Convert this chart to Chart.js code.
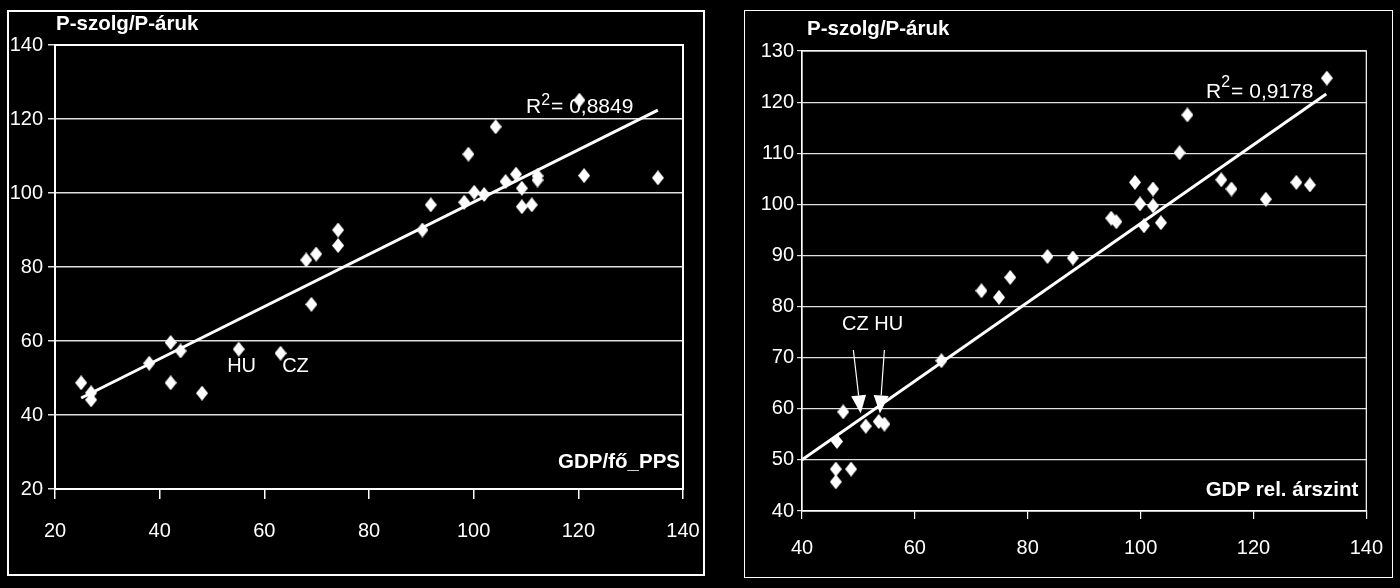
<!DOCTYPE html>
<html><head><meta charset="utf-8">
<script src="https://cdn.jsdelivr.net/npm/chart.js@4"></script>
<style>
html,body{margin:0;padding:0;background:#000;width:1400px;height:588px;overflow:hidden}
.box{position:absolute;border:2px solid #fff;box-sizing:border-box}
canvas{position:absolute}
</style></head><body>
<div class="box" style="left:7px;top:10px;width:698px;height:566px"></div>
<div class="box" style="left:744px;top:10px;width:649px;height:568px;border-width:1px"></div>
<canvas id="c1" width="720" height="588" style="left:0;top:0"></canvas>
<canvas id="c2" width="680" height="588" style="left:720px;top:0"></canvas>
<script>
// ---- data ----
const leftX = [25.0,26.9,26.9,38.0,42.1,44.0,42.1,48.1,55.1,63.1,68.0,69.9,69.0,74.1,74.1,90.2,91.8,98.2,99.0,100.1,102.0,104.2,106.1,108.1,109.2,109.2,111.1,112.2,112.2,120.2,121.1,135.2];
const leftY = [48.7,46.0,44.1,54.0,59.6,57.3,48.7,45.9,57.8,56.7,81.9,83.5,69.9,90.0,85.8,90.0,96.8,97.5,110.5,100.2,99.6,117.9,103.1,105.1,101.3,96.3,96.8,104.6,103.5,125.1,104.7,104.1];
const leftTrendX = [25, 135.2];
const leftTrendY = [44.6, 122.4];
const leftTicksX = [20,40,60,80,100,120,140];
const leftTicksY = [20,40,60,80,100,120,140];

const rightX = [46.0,46.0,46.2,47.3,48.7,51.3,53.6,54.6,64.7,71.8,74.9,76.9,83.5,88.0,94.8,95.7,99.0,99.9,100.6,102.2,102.2,103.6,106.9,108.3,114.3,116.1,122.2,127.6,130.0,133.0];
const rightY = [45.7,48.2,53.6,59.4,48.2,56.6,57.5,57.0,69.4,83.1,81.8,85.7,89.8,89.5,97.3,96.6,104.3,100.1,95.8,103.0,99.7,96.4,110.1,117.5,104.8,103.0,101.0,104.3,103.8,124.7];
const rightTrendX = [40, 132.9];
const rightTrendY = [50, 121.6];
const rightTicksX = [40,60,80,100,120,140];
const rightTicksY = [40,50,60,70,80,90,100,110,120,130];

const yTitle = 'P-szolg/P-áruk';
const leftXTitle = 'GDP/fő_PPS';
const rightXTitle = 'GDP rel. árszint';
const leftR2 = '0,8849';
const rightR2 = '0,9178';

// ---- helpers ----
const FF = "'Liberation Sans', Arial, sans-serif";
Chart.defaults.font.family = FF;
function diamond(w,h){const c=document.createElement('canvas');c.width=w;c.height=h;const g=c.getContext('2d');g.fillStyle='#fff';g.beginPath();g.moveTo(w/2,0);g.lineTo(w,h/2);g.lineTo(w/2,h);g.lineTo(0,h/2);g.closePath();g.fill();return c;}
const dia = diamond(12,15);
const pts = (xs,ys)=>xs.map((x,i)=>({x:x,y:ys[i]}));

const annot = {
  id:'annot',
  afterDatasetsDraw(chart, args, o){
    const ctx = chart.ctx, a = chart.chartArea, sx = chart.scales.x, sy = chart.scales.y;
    ctx.save();
    ctx.strokeStyle='#fff'; ctx.lineWidth=o.borderW;
    ctx.strokeRect(a.left, a.top, a.right-a.left, a.bottom-a.top);
    ctx.fillStyle='#fff';
    ctx.font = 'bold 20.5px '+FF; ctx.textBaseline='middle'; ctx.textAlign='left';
    ctx.fillText(yTitle, a.left+o.titleDx, a.top-o.titleDy);
    ctx.textAlign='right';
    ctx.fillText(o.xTitle, a.right-o.xtDx, a.bottom-o.xtDy);
    ctx.textAlign='left'; ctx.textBaseline='alphabetic';
    let px = sx.getPixelForValue(o.r2pos[0]), py = sy.getPixelForValue(o.r2pos[1]);
    ctx.font = '21px '+FF; ctx.fillText('R', px, py); px += ctx.measureText('R').width;
    ctx.font = '16px '+FF; ctx.fillText('2', px, py-o.supRise); px += ctx.measureText('2').width+1;
    ctx.font = '21px '+FF; ctx.fillText('= '+o.r2, px, py);
    ctx.font = '20px '+FF; ctx.textBaseline='middle';
    (o.labels||[]).forEach(l=>{ctx.fillText(l.t, sx.getPixelForValue(l.x), sy.getPixelForValue(l.y));});
    (o.arrows||[]).forEach(ar=>{
      const x1=sx.getPixelForValue(ar[0]), y1=sy.getPixelForValue(ar[1]);
      const x2=sx.getPixelForValue(ar[2]), y2=sy.getPixelForValue(ar[3]);
      const ang=Math.atan2(y2-y1,x2-x1), L=18, W=7.5;
      ctx.strokeStyle='#fff'; ctx.lineWidth=1.2;
      ctx.beginPath(); ctx.moveTo(x1,y1); ctx.lineTo(x2-L*Math.cos(ang), y2-L*Math.sin(ang)); ctx.stroke();
      ctx.beginPath(); ctx.moveTo(x2,y2);
      ctx.lineTo(x2-L*Math.cos(ang)+W*Math.sin(ang), y2-L*Math.sin(ang)-W*Math.cos(ang));
      ctx.lineTo(x2-L*Math.cos(ang)-W*Math.sin(ang), y2-L*Math.sin(ang)+W*Math.cos(ang));
      ctx.closePath(); ctx.fill();
    });
    ctx.restore();
  }
};

function makeChart(id, cfg){
  return new Chart(document.getElementById(id), {
    type:'scatter',
    data:{datasets:[
      {data:pts(cfg.xs,cfg.ys), pointStyle:dia, pointRadius:7, showLine:false, order:2},
      {data:pts(cfg.tx,cfg.ty), showLine:true, borderColor:'#fff', borderWidth:3, pointRadius:0, order:1}
    ]},
    options:{
      responsive:false, animation:false, devicePixelRatio:1,
      layout:{padding:{left:0, top:cfg.top, right:cfg.right, bottom:0}},
      plugins:{legend:{display:false}, tooltip:{enabled:false}, annot:cfg.annot},
      scales:{
        x:{type:'linear', min:cfg.xTicks[0], max:cfg.xTicks[cfg.xTicks.length-1],
           afterBuildTicks(s){s.ticks=cfg.xTicks.map(v=>({value:v}));},
           ticks:{color:'#fff', font:{size:20}, padding:cfg.xPad, maxRotation:0},
           grid:{drawOnChartArea:false, color:'#fff', tickLength:cfg.xTL, lineWidth:cfg.gw},
           border:{color:'#fff', width:cfg.bw},
           afterFit(s){s.height=cfg.xH;}},
        y:{min:cfg.yTicks[0], max:cfg.yTicks[cfg.yTicks.length-1],
           afterBuildTicks(s){s.ticks=cfg.yTicks.map(v=>({value:v}));},
           ticks:{color:'#fff', font:{size:20}, padding:cfg.yPad},
           grid:{color:'#e0e0e0', tickLength:cfg.yTL, lineWidth:cfg.gw},
           border:{color:'#fff', width:cfg.bw},
           afterFit(s){s.width=cfg.yW;}}
      }
    },
    plugins:[annot]
  });
}

makeChart('c1', {xs:leftX, ys:leftY, tx:leftTrendX, ty:leftTrendY, xTicks:leftTicksX, yTicks:leftTicksY,
  top:45, right:37, xH:99, yW:55, xPad:20, xTL:10, yPad:5, yTL:7, gw:1.5, bw:2,
  annot:{borderW:2, titleDx:1, titleDy:21, xTitle:leftXTitle, xtDx:3, xtDy:27, r2:leftR2, r2pos:[110,121.6], supRise:8,
    labels:[{t:'HU',x:52.9,y:53},{t:'CZ',x:63.4,y:53}]}});

makeChart('c2', {xs:rightX, ys:rightY, tx:rightTrendX, ty:rightTrendY, xTicks:rightTicksX, yTicks:rightTicksY,
  top:51, right:24, xH:77, yW:82, xPad:17, xTL:8, yPad:3, yTL:5, gw:1.2, bw:1.2,
  annot:{borderW:1.2, titleDx:5, titleDy:22, xTitle:rightXTitle, xtDx:8, xtDy:21, r2:rightR2, r2pos:[111.6,120.8], supRise:11,
    labels:[{t:'CZ HU',x:47.1,y:76.4}],
    arrows:[[49.1,71.5,50.4,59.1],[54.6,71.5,53.8,59.1]]}});
</script>
</body></html>
